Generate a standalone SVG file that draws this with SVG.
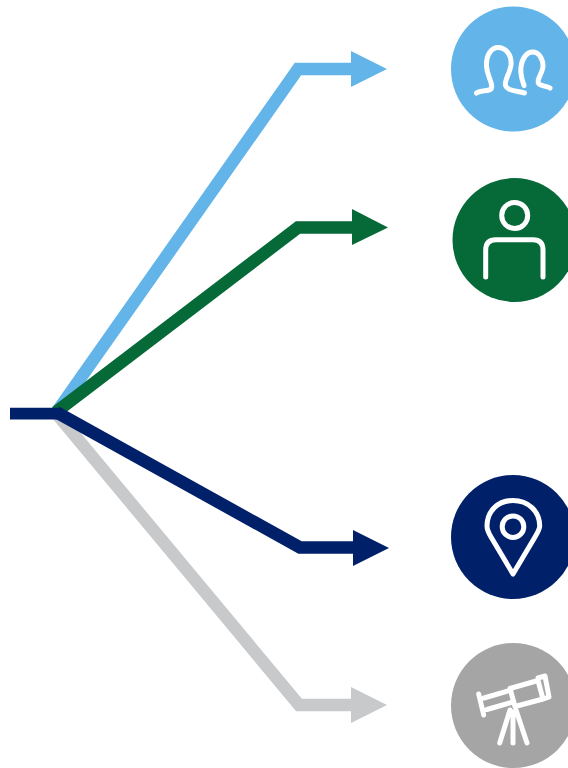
<svg xmlns="http://www.w3.org/2000/svg" width="568" height="768" viewBox="0 0 568 768">
<style>
.c{fill:none;stroke-width:12.500;stroke-linejoin:miter}
.i{fill:none;stroke:#fff;stroke-width:5;stroke-linecap:round;stroke-linejoin:round}
</style>
<rect width="568" height="768" fill="#fff"/>
<g id="connectors">
<g id="c-gray"><path class="c" stroke="#c8c9cb" d="M56 413L299 705H352"/><path fill="#c8c9cb" d="M351 687L387 705L351 723Z"/></g>
<g id="c-blue"><path class="c" stroke="#63b4e8" d="M56 413L298 69H352"/><path fill="#63b4e8" d="M351 51L387 69L351 87Z"/></g>
<g id="c-green"><path class="c" stroke="#066a38" d="M56 412L298 227.500H353"/><path fill="#066a38" d="M352 209L388 227.500L352 245Z"/></g>
<g id="c-navy"><path class="c" stroke="#00206a" d="M56 412L300 547.500H354"/><path fill="#00206a" d="M353 530L389 548L353 566Z"/><path fill="#00206a" d="M10 407.800H58V419.500H10Z"/></g>
</g>
<g id="node-people"><circle cx="513.500" cy="69" r="62.500" fill="#63b4e8"/>
<path class="i" d="M476.500 93C481 90 488 91.500 491 89C494 85 487 76 486.500 66C486 54 492 47.500 498 47.500C505 47.500 512 54 511 65C510 73 504 81 505.500 85.500C507 90 512 90 524.500 93"/>
<path class="i" d="M524 85.500C522 79 520 75 521 67C522 58 527 52 532.500 52C539 52 543 59 543 66C543 73 535.500 80 539 84C541 86 547 86 550 88"/></g>
<g id="node-person"><circle cx="514.500" cy="240" r="62" fill="#066a38"/>
<circle class="i" cx="514.700" cy="215.500" r="13"/>
<path class="i" d="M485.700 277V250Q485.700 239.700 496 239.700H533Q543 239.700 543 250V277"/></g>
<g id="node-pin"><circle cx="513" cy="537" r="62" fill="#00206a"/>
<path class="i" d="M513 574L491 537C488 532 487 528 487 526C487 511 498 500.500 513 500.500C528 500.500 539.700 511 539.700 526C539.700 528 538 532 535 537Z"/>
<circle class="i" cx="513" cy="526.700" r="10.800"/></g>
<g id="node-telescope"><circle cx="513.500" cy="705.500" r="62.500" fill="#a5a5a5"/>
<path class="i" d="M478.700 694L483.700 715M484 698L510 690.500M487 709.500L513 702"/>
<path class="i" d="M510 688.500L538 680.500L543 699L515 706.500ZM538 678L545 676L549 697L542 699.500"/>
<path class="i" d="M510 710L499.700 743M513 712V743M516 710L527 743"/></g>
</svg>
